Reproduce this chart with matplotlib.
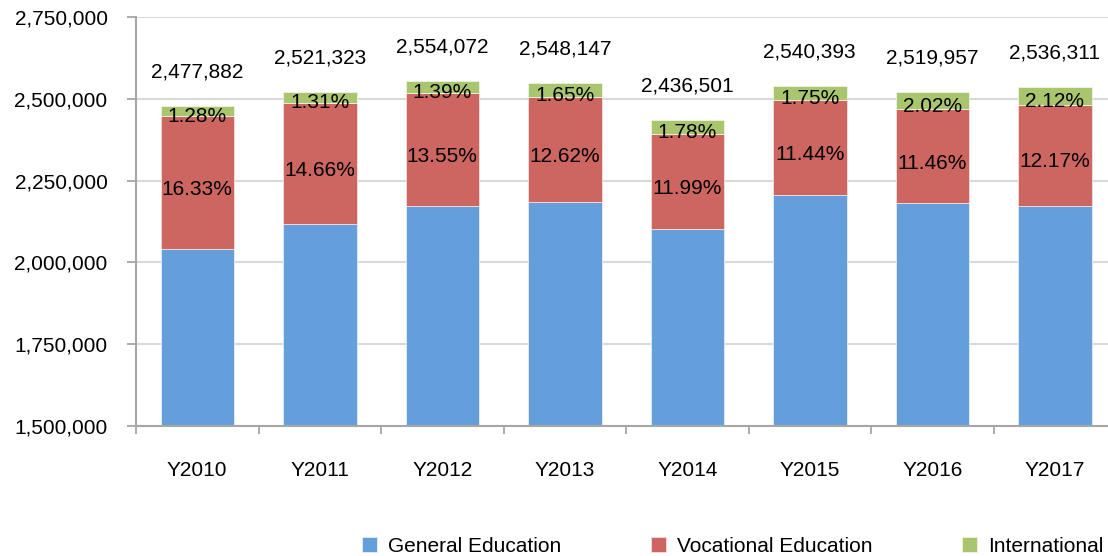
import matplotlib.pyplot as plt
from matplotlib.ticker import FuncFormatter, FixedLocator
import numpy as np

plt.rcParams['font.family'] = ['Liberation Sans', 'DejaVu Sans']

years = ['Y2010', 'Y2011', 'Y2012', 'Y2013', 'Y2014', 'Y2015', 'Y2016', 'Y2017']
totals = [2477882, 2521323, 2554072, 2548147, 2436501, 2540393, 2519957, 2536311]
vocational_pct = [16.33, 14.66, 13.55, 12.62, 11.99, 11.44, 11.46, 12.17]
international_pct = [1.28, 1.31, 1.39, 1.65, 1.78, 1.75, 2.02, 2.12]

# segment sizes from the totals and the shares printed on the bars
totals_a = np.array(totals, dtype=float)
vocational = totals_a * np.array(vocational_pct) / 100
international = totals_a * np.array(international_pct) / 100
general = totals_a - vocational - international

c_gen = '#659FDB'
c_voc = '#CD6660'
c_int = '#A9C56D'
fs = 15

fig = plt.figure(figsize=(11.08, 5.56), dpi=100)
ax = fig.add_axes([136 / 1108, 1 - 426 / 556, 980 / 1108, 409 / 556])

x = np.arange(len(years))
w = 0.6
ax.bar(x, general, w, color=c_gen, edgecolor='#E8EEF6', linewidth=0.6, label='General Education', zorder=2)
ax.bar(x, vocational, w, bottom=general, color=c_voc, edgecolor='#F3E0DF', linewidth=0.6,
       label='Vocational Education', zorder=2)
ax.bar(x, international, w, bottom=general + vocational, color=c_int, edgecolor='#EEF3E4', linewidth=0.6,
       label='International', zorder=2)

for i in range(len(years)):
  ax.annotate('%.2f%%' % vocational_pct[i], (x[i], general[i] + vocational[i] / 2),
              xytext=(0, -5), textcoords='offset points', ha='center', va='center', fontsize=fs, zorder=3)
  ax.annotate('%.2f%%' % international_pct[i], (x[i], general[i] + vocational[i] + international[i] / 2),
              xytext=(0, -4), textcoords='offset points', ha='center', va='center', fontsize=fs, zorder=3)
  ax.annotate('{:,}'.format(totals[i]), (x[i], totals[i]), xytext=(0, 24.5),
              textcoords='offset points', ha='center', va='center', fontsize=fs, zorder=3)

ax.set_xlim(-0.5, len(years) - 0.5)
ax.set_ylim(1500000, 2750000)
ax.set_yticks(np.arange(1500000, 2750001, 250000))
ax.yaxis.set_major_formatter(FuncFormatter(lambda v, p: '{:,}'.format(int(v))))
ax.set_xticks(x)
ax.set_xticklabels(years)
ax.xaxis.set_minor_locator(FixedLocator(np.arange(-0.5, len(years), 1.0)))

ax.tick_params(axis='x', which='major', length=0, pad=25, labelsize=fs)
ax.tick_params(axis='x', which='minor', length=6, width=1.3, color='#A6A6A6', direction='out')
ax.tick_params(axis='y', length=6.5, width=1.3, color='#A6A6A6', pad=14, labelsize=fs)

ax.grid(axis='y', color='#D9D9D9', linewidth=1.5, zorder=0)
ax.set_axisbelow(True)
for s in ['top', 'right']:
  ax.spines[s].set_visible(False)
for s in ['left', 'bottom']:
  ax.spines[s].set_color('#A6A6A6')
  ax.spines[s].set_linewidth(1.5)

fig.legend(loc='center', bbox_to_anchor=(0.661, 1 - 546 / 556), ncol=3, frameon=False, fontsize=fs,
           handlelength=0.75, handleheight=0.75, handletextpad=0.5, columnspacing=4.3)

plt.savefig('out.png', dpi=100)
